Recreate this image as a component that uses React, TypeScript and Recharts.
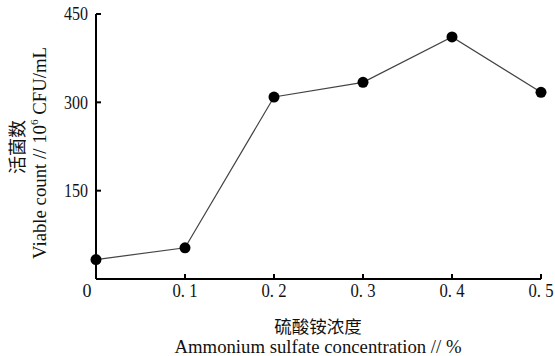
import { Line, LineChart, XAxis, YAxis } from "recharts";

const concentration = [0, 0.1, 0.2, 0.3, 0.4, 0.5];
const viableCount = [33, 53, 309, 334, 411, 317];
const xTicks = [0, 0.1, 0.2, 0.3, 0.4, 0.5];
const yTicks = [0, 150, 300, 450];

const data = concentration.map((c, i) => ({ c, v: viableCount[i] }));

const serif = "'Liberation Serif', 'Times New Roman', serif";
const cjk = "'Noto Sans CJK SC', sans-serif";

function XTick({ x, y, payload }: any) {
  const v = payload.value as number;
  if (v === 0) {
    return (
      <text x={x - 9} y={y + 18} textAnchor="middle" fontFamily={serif} fontSize={18} fill="#111">
        0
      </text>
    );
  }
  return (
    <g>
      <line x1={x} y1={y} x2={x} y2={y - 5} stroke="#000" strokeWidth={2} />
      <text
        x={x}
        y={y + 18}
        textAnchor="middle"
        fontFamily={serif}
        fontSize={18}
        fill="#111"
        textLength={25}
        lengthAdjust="spacingAndGlyphs"
      >
        {v.toFixed(1).replace(".", ". ")}
      </text>
    </g>
  );
}

function YTick({ x, y, payload }: any) {
  const v = payload.value as number;
  if (v === 0) return null;
  return (
    <g>
      <line x1={x} y1={y} x2={x + 5} y2={y} stroke="#000" strokeWidth={2} />
      <text
        x={x - 8}
        y={y}
        dy="0.35em"
        textAnchor="end"
        fontFamily={serif}
        fontSize={18}
        fill="#111"
        textLength={24}
        lengthAdjust="spacingAndGlyphs"
      >
        {v}
      </text>
    </g>
  );
}

function YTitle() {
  return (
    <g fill="#111">
      <text
        transform="translate(24,147) rotate(-90)"
        textAnchor="middle"
        fontFamily={cjk}
        fontSize={18}
      >
        活菌数
      </text>
      <text
        transform="translate(46,153) rotate(-90)"
        textAnchor="middle"
        fontFamily={serif}
        fontSize={18.5}
        textLength={212}
        lengthAdjust="spacingAndGlyphs"
      >
        Viable count // 10
        <tspan fontSize={11} dy={-8}>6</tspan>
        <tspan dy={8}> CFU/mL</tspan>
      </text>
    </g>
  );
}

function XTitle() {
  return (
    <g fill="#111">
      <text x={318} y={333} textAnchor="middle" fontFamily={cjk} fontSize={17.5}>
        硫酸铵浓度
      </text>
      <text
        x={318}
        y={353}
        textAnchor="middle"
        fontFamily={serif}
        fontSize={18}
        textLength={287}
        lengthAdjust="spacingAndGlyphs"
      >
        Ammonium sulfate concentration // %
      </text>
    </g>
  );
}

export default function App() {
  return (
    <div style={{ position: "absolute", left: 0, top: 0, background: "#fff" }}>
      <LineChart width={555} height={356} data={data} margin={{ top: 14, right: 14, left: 0, bottom: 0 }}>
        <XAxis
          dataKey="c"
          type="number"
          domain={[0, 0.5]}
          ticks={xTicks}
          height={77}
          tickSize={0}
          tickMargin={0}
          tickLine={false}
          axisLine={{ stroke: "#000", strokeWidth: 2 }}
          tick={<XTick />}
          interval={0}
          label={{ content: () => <XTitle /> }}
        />
        <YAxis
          type="number"
          domain={[0, 450]}
          ticks={yTicks}
          width={96}
          tickSize={0}
          tickMargin={0}
          tickLine={false}
          axisLine={{ stroke: "#000", strokeWidth: 2 }}
          tick={<YTick />}
          interval={0}
          label={{ content: () => <YTitle /> }}
        />
        <Line
          dataKey="v"
          type="linear"
          stroke="#444"
          strokeWidth={1.2}
          dot={{ r: 5.5, fill: "#000", stroke: "#000", strokeWidth: 0 }}
          activeDot={false}
          isAnimationActive={false}
        />
      </LineChart>
    </div>
  );
}
